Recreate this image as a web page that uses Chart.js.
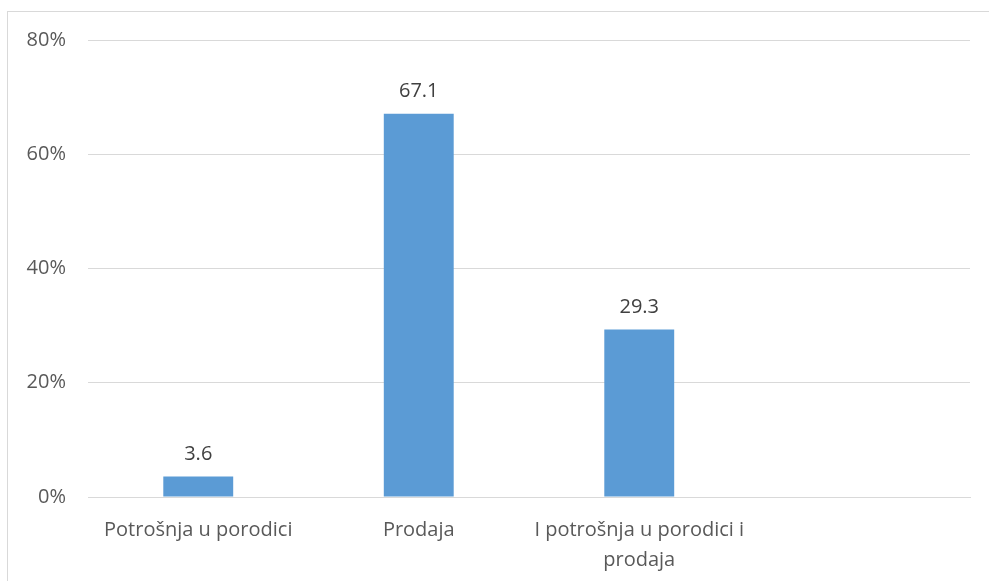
<!DOCTYPE html>
<html>
<head>
<meta charset="utf-8">
<script src="https://cdn.jsdelivr.net/npm/chart.js@4.4.0/dist/chart.umd.min.js"></script>
<style>
  html, body { margin: 0; padding: 0; background: #fff; overflow: hidden; }
  #frame { position: absolute; left: 7px; top: 11px; width: 1000px; height: 600px; border: 1px solid #d9d9d9; }
  #wrap { position: absolute; left: 0; top: 0; width: 989px; height: 581px; }
</style>
</head>
<body>
<div id="frame"></div>
<div id="wrap"><canvas id="myChart"></canvas></div>
<script>
const categories = ['Potrošnja u porodici', 'Prodaja', ['I potrošnja u porodici i', 'prodaja'], ''];
const values = [3.6, 67.1, 29.3, null];
const yTicks = [0, 20, 40, 60, 80];

const FONT = "'Open Sans', sans-serif";

// value labels above bars
const barLabels = {
    id: 'barLabels',
    afterDatasetsDraw(chart) {
        const ctx = chart.ctx;
        const meta = chart.getDatasetMeta(0);
        ctx.save();
        ctx.font = '20px ' + FONT;
        ctx.fillStyle = '#404040';
        ctx.textAlign = 'center';
        ctx.textBaseline = 'middle';
        meta.data.forEach((bar, i) => {
            if (values[i] == null) return;
            ctx.fillText(values[i].toFixed(1), bar.x, bar.y - 22);
        });
        ctx.restore();
    }
};

const ctx = document.getElementById('myChart').getContext('2d');
new Chart(ctx, {
    type: 'bar',
    data: {
        labels: categories,
        datasets: [{
            data: values,
            backgroundColor: '#5b9bd5',
            barPercentage: 0.634,
            categoryPercentage: 0.5
        }]
    },
    options: {
        responsive: true,
        maintainAspectRatio: false,
        animation: false,
        layout: { padding: { top: 40, right: 19, left: 0, bottom: 0 } },
        plugins: {
            legend: { display: false },
            tooltip: { enabled: false }
        },
        scales: {
            x: {
                grid: { display: false, drawTicks: false },
                border: { display: true, color: '#d9d9d9', width: 1 },
                ticks: {
                    color: '#595959',
                    font: { family: FONT, size: 20, lineHeight: 1.5 },
                    padding: 18,
                    maxRotation: 0,
                    autoSkip: false
                },
                afterFit: scale => { scale.height = 84; }
            },
            y: {
                min: 0,
                max: 80,
                afterBuildTicks: scale => { scale.ticks = yTicks.map(v => ({ value: v })); },
                grid: { color: '#d9d9d9', drawTicks: false },
                border: { display: false },
                ticks: {
                    color: '#595959',
                    font: { family: FONT, size: 20 },
                    padding: 22,
                    callback: v => v + '%'
                },
                afterFit: scale => { scale.width = 88; }
            }
        }
    },
    plugins: [barLabels]
});
</script>
</body>
</html>
